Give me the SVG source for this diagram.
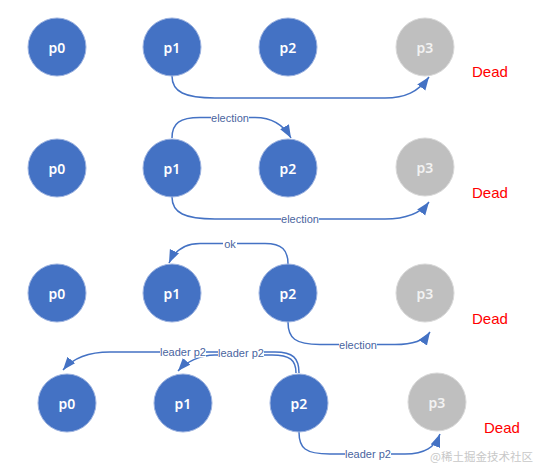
<svg xmlns="http://www.w3.org/2000/svg" width="534" height="467" viewBox="0 0 534 467">
<style>
.live{fill:#4472C4;stroke:#9db3e0;stroke-width:1}
.dead{fill:#BFBFBF;stroke:#d9d9d9;stroke-width:1}
.nt{font-family:"Noto Sans","Liberation Sans",sans-serif;font-size:14px;font-weight:600;fill:#ffffff;text-anchor:middle;dominant-baseline:central}
.dt{fill:#f2f2f2}
.dead-lbl{font-family:"Liberation Sans",Arial,sans-serif;font-size:15px;fill:#FF0000}
.edge{fill:none;stroke:#4472C4;stroke-width:1.5}
.lb{fill:#ffffff}
.el{font-family:"Liberation Sans",Arial,sans-serif;font-size:11px;fill:#4a65a0;text-anchor:middle;dominant-baseline:central}
.wm{font-family:"Noto Sans CJK SC","Liberation Sans",sans-serif;font-size:11.5px;fill:#c8c8c8}
</style>
<defs>
<marker id="ah" markerUnits="userSpaceOnUse" markerWidth="14" markerHeight="11" refX="13" refY="5" orient="auto">
<path d="M0,0 L13,5 L0,10 z" fill="#4472C4"/>
</marker>
</defs>
<rect width="534" height="467" fill="#ffffff"/>

<g id="connectors">
<path class="edge" marker-end="url(#ah)" d="M172,76 C172,92 185,98 215,98 L385,98 C405,98 418,92 429,77"/>
<path class="edge" marker-end="url(#ah)" d="M172,138 C172,123 180,117.5 200,117.5 L255,117.5 C272,117.5 283,124 291,138"/>
<path class="edge" marker-end="url(#ah)" d="M172,197 C172,213 185,219 215,219 L385,219 C405,219 420,214 429,202"/>
<path class="edge" marker-end="url(#ah)" d="M288,264 C288,250 282,243.5 265,243.5 L200,243.5 C185,243.5 175,250 169,263"/>
<path class="edge" marker-end="url(#ah)" d="M288,322 C288,338 295,344.5 320,344.5 L395,344.5 C412,344.5 424,341 430,332"/>
<path class="edge" marker-end="url(#ah)" d="M299,373 C299,358 293,352 275,352 L110,352 C90,352 73,358 63,370"/>
<path class="edge" marker-end="url(#ah)" d="M296,373 C296,360 290,355 272,355 L215,355 C200,355 186,362 178,371"/>
<path class="edge" marker-end="url(#ah)" d="M299,432 C299,448 305,454 330,454 L405,454 C425,454 435,447 440,434"/>
<rect class="lb" x="211" y="112" width="38" height="11"/>
<rect class="lb" x="281" y="213.5" width="38" height="11"/>
<rect class="lb" x="223" y="238" width="14" height="11"/>
<rect class="lb" x="339" y="339" width="38" height="11"/>
<rect class="lb" x="160" y="346.5" width="46" height="11"/>
<rect class="lb" x="218" y="347.5" width="46" height="11"/>
<rect class="lb" x="345" y="448.5" width="46" height="11"/>
<text class="el" x="230" y="117.5">election</text>
<text class="el" x="300" y="219">election</text>
<text class="el" x="230" y="243.5">ok</text>
<text class="el" x="358" y="344.5">election</text>
<text class="el" x="183" y="352">leader p2</text>
<text class="el" x="241" y="353">leader p2</text>
<text class="el" x="368" y="454">leader p2</text>
</g>

<g id="r1-p0"><circle class="live" cx="57" cy="47" r="29"/><text class="nt" x="57" y="47">p0</text></g>
<g id="r1-p1"><circle class="live" cx="172" cy="47" r="29"/><text class="nt" x="172" y="47">p1</text></g>
<g id="r1-p2"><circle class="live" cx="288" cy="47" r="29"/><text class="nt" x="288" y="47">p2</text></g>
<g id="r1-p3"><circle class="dead" cx="425" cy="47" r="29"/><text class="nt dt" x="425" y="47">p3</text></g>
<text class="dead-lbl" x="472" y="77">Dead</text>

<g id="r2-p0"><circle class="live" cx="57" cy="168" r="29"/><text class="nt" x="57" y="168">p0</text></g>
<g id="r2-p1"><circle class="live" cx="172" cy="168" r="29"/><text class="nt" x="172" y="168">p1</text></g>
<g id="r2-p2"><circle class="live" cx="288" cy="168" r="29"/><text class="nt" x="288" y="168">p2</text></g>
<g id="r2-p3"><circle class="dead" cx="425" cy="167" r="29"/><text class="nt dt" x="425" y="167">p3</text></g>
<text class="dead-lbl" x="472" y="198">Dead</text>

<g id="r3-p0"><circle class="live" cx="57" cy="293" r="29"/><text class="nt" x="57" y="293">p0</text></g>
<g id="r3-p1"><circle class="live" cx="172" cy="293" r="29"/><text class="nt" x="172" y="293">p1</text></g>
<g id="r3-p2"><circle class="live" cx="288" cy="293" r="29"/><text class="nt" x="288" y="293">p2</text></g>
<g id="r3-p3"><circle class="dead" cx="425" cy="293" r="29"/><text class="nt dt" x="425" y="293">p3</text></g>
<text class="dead-lbl" x="472" y="324">Dead</text>

<g id="r4-p0"><circle class="live" cx="67" cy="403" r="29"/><text class="nt" x="67" y="403">p0</text></g>
<g id="r4-p1"><circle class="live" cx="183" cy="403" r="29"/><text class="nt" x="183" y="403">p1</text></g>
<g id="r4-p2"><circle class="live" cx="299" cy="403" r="29"/><text class="nt" x="299" y="403">p2</text></g>
<g id="r4-p3"><circle class="dead" cx="437" cy="402" r="29"/><text class="nt dt" x="437" y="402">p3</text></g>
<text class="dead-lbl" x="484" y="433">Dead</text>

<text class="wm" x="430" y="461">@稀土掘金技术社区</text>
</svg>
